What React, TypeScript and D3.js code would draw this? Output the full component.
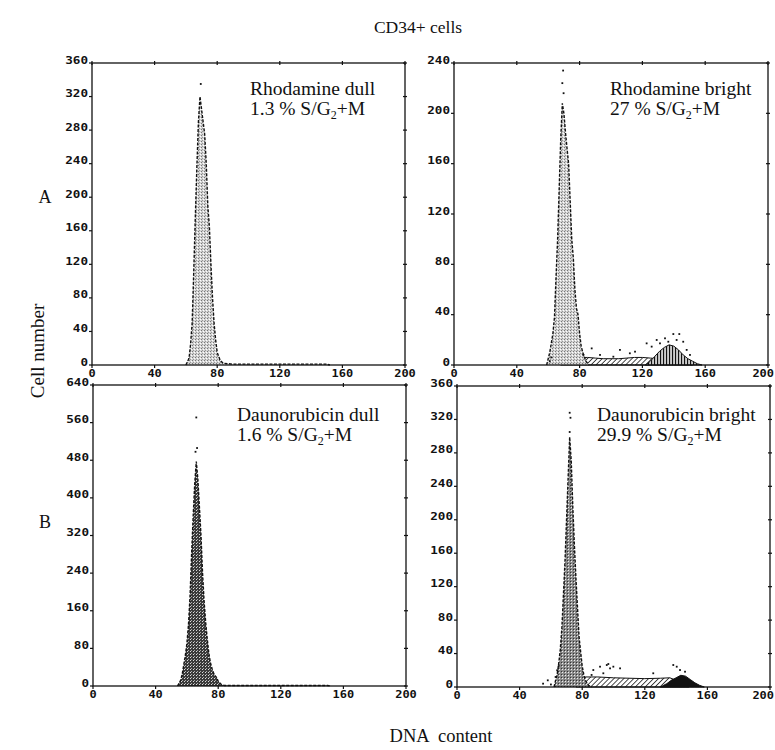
import React from 'react';
import * as d3 from 'd3';

type Pt = [number, number];

// ---------- data (channel, cell count) ----------
const xTickValues = [0, 40, 80, 120, 160, 200];
const yTicksRhoDull = [0, 40, 80, 120, 160, 200, 240, 280, 320, 360];
const yTicksRhoBright = [0, 40, 80, 120, 160, 200, 240];
const yTicksDauDull = [0, 80, 160, 240, 320, 400, 480, 560, 640];
const yTicksDauBright = [0, 40, 80, 120, 160, 200, 240, 280, 320, 360];

const rhoDullG1: Pt[] = [[60,0],[62,8],[63,25],[64,50],[65,110],[66,175],[67,235],[68,290],[69,320],[70,305],[71,290],[72,275],[73,240],[74,190],[75,165],[76,120],[77,80],[78,50],[79,30],[80,15],[82,5],[84,2],[90,1],[150,1],[152,0]];
const rhoDullDots: Pt[] = [[69.5,335]];

const rhoBrightG1: Pt[] = [[59,0],[61,10],[63,25],[64,38],[65,70],[66,100],[67,140],[68,180],[69,208],[70,200],[71,185],[72,172],[73,160],[74,130],[75,100],[76,85],[77,60],[78,45],[79,40],[80,25],[81,15],[82,10],[84,3],[86,0]];
const rhoBrightS: Pt[] = [[68,0],[72,3],[76,5],[80,6],[85,6],[90,5.5],[95,5],[100,5],[105,5],[110,5.5],[115,6],[120,6],[125,5.5],[130,5],[135,4],[140,3],[145,2],[150,0.5],[152,0]];
const rhoBrightG2: Pt[] = [[122,0],[125,3],[128,7],[131,11],[134,14],[137,16],[140,15],[143,12],[146,8],[149,5],[152,3],[155,1],[158,0]];
const rhoBrightDots: Pt[] = [[69.5,234],[69,224],[69.8,216],[61,3],[62,6],[87.7,13.2],[82.4,8],[105.7,12],[112,9.3],[115.3,10.6],[122.7,17.2],[125.9,14.6],[129.1,19.9],[131.2,17.2],[134.4,21.2],[136.5,18.5],[139.7,24.6],[143.5,24.6],[141.8,19.9],[146,18.5],[148.2,12],[150.3,8],[101.5,6.6],[93,8]];

const dauDullG1: Pt[] = [[54,0],[56,12],[57,25],[58,45],[59,65],[60,90],[61,130],[62,190],[63,280],[64,360],[65,430],[66,477],[67,440],[68,380],[69,320],[70,240],[71,180],[72,135],[73,100],[74,70],[75,50],[76,38],[77,28],[78,22],[79,18],[80,10],[82,3],[84,1],[150,1],[152,0]];
const dauDullDots: Pt[] = [[66.5,506],[65.5,498],[66,571]];

const dauBrightG1: Pt[] = [[62,0],[63,8],[64,15],[65,28],[66,45],[67,70],[68,110],[69,150],[70,200],[71,250],[72,299],[73,270],[74,215],[75,170],[76,130],[77,95],[78,60],[79,42],[80,25],[81,15],[82,8],[84,2],[86,0]];
const dauBrightS: Pt[] = [[76,0],[79,10],[82,12],[90,12],[100,11],[110,10.5],[120,10],[130,10.5],[136,11],[140,8],[144,3],[148,0]];
const dauBrightG2: Pt[] = [[130,0],[134,4],[137,8],[140,11],[143,14],[146,13],[149,9],[152,5],[155,2],[158,0]];
const dauBrightDots: Pt[] = [[72,328],[72.5,322],[72,305],[55,4],[58,8],[60,3],[63,12],[64,20],[65,25],[87.1,20.3],[91.4,24.3],[95.7,26.3],[97.8,22.3],[99.9,24.3],[104.2,22.3],[93.5,16.4],[96.7,27.5],[140.4,24.3],[142.5,20.3],[145.7,18.3],[138.2,26.3],[125.4,16.4],[86,14.4]];

const panelNames = ['Rhodamine dull', 'Rhodamine bright', 'Daunorubicin dull', 'Daunorubicin bright'];
const panelPercents = ['1.3', '27', '1.6', '29.9'];
const rowLabels = ['A', 'B'];

// ---------- layout ----------
const W = 775;
const panels = [
  { x0: 92, x1: 405, y0: 63, y1: 365, yMax: 360, yTicks: yTicksRhoDull, g1: rhoDullG1, s: null as Pt[] | null, g2: null as Pt[] | null, dots: rhoDullDots, g1Fill: 'url(#stLight)', g2Fill: '', tx: 250, ty: 95 },
  { x0: 454, x1: 768, y0: 63, y1: 365, yMax: 240, yTicks: yTicksRhoBright, g1: rhoBrightG1, s: rhoBrightS, g2: rhoBrightG2, dots: rhoBrightDots, g1Fill: 'url(#stLight)', g2Fill: 'url(#vlines)', tx: 610, ty: 95 },
  { x0: 93, x1: 406, y0: 385, y1: 686, yMax: 640, yTicks: yTicksDauDull, g1: dauDullG1, s: null as Pt[] | null, g2: null as Pt[] | null, dots: dauDullDots, g1Fill: 'url(#stDark)', g2Fill: '', tx: 237, ty: 421 },
  { x0: 457, x1: 770, y0: 386, y1: 687, yMax: 360, yTicks: yTicksDauBright, g1: dauBrightG1, s: dauBrightS, g2: dauBrightG2, dots: dauBrightDots, g1Fill: 'url(#stMid)', g2Fill: '#111', tx: 597, ty: 421 },
];

const tickFont = { fontFamily: 'DejaVu Sans Mono', fontWeight: 'bold' as const, fontSize: 10, fill: '#111' };

function Panel({ p, i }: { p: typeof panels[number]; i: number }) {
  const x = d3.scaleLinear().domain([0, 200]).range([p.x0, p.x1]);
  const y = d3.scaleLinear().domain([0, p.yMax]).range([p.y1, p.y0]);
  const area = d3.area<Pt>().x(d => x(d[0])).y0(y(0)).y1(d => y(d[1]));
  const line = d3.line<Pt>().x(d => x(d[0])).y(d => y(d[1]));
  return (
    <g>
      {p.s && <path d={area(p.s) || ''} fill="url(#hatch)" stroke="#111" strokeWidth={1} />}
      {p.g2 && <path d={area(p.g2) || ''} fill={p.g2Fill} stroke="#111" strokeWidth={1} />}
      <path d={area(p.g1) || ''} fill={p.g1Fill} />
      <path d={line(p.g1) || ''} fill="none" stroke="#111" strokeWidth={1.4} strokeDasharray="3,1.5" />
      {p.dots.map((d, k) => (
        <rect key={k} x={x(d[0]) - 0.9} y={y(d[1]) - 0.9} width={1.8} height={1.8} fill="#111" />
      ))}
      <rect x={p.x0} y={p.y0} width={p.x1 - p.x0} height={p.y1 - p.y0} fill="none" stroke="#111" strokeWidth={1.3} />
      {p.yTicks.map(t => (
        <g key={'y' + t}>
          <line x1={p.x0 - 3} x2={p.x0} y1={y(t)} y2={y(t)} stroke="#111" strokeWidth={1.2} />
          <line x1={p.x1 - 2} x2={p.x1 + 2} y1={y(t)} y2={y(t)} stroke="#111" strokeWidth={1.2} />
          <text x={p.x0 - 4} y={y(t) + 0.5} textAnchor="end" {...tickFont}
            textLength={String(t).length * 7.6} lengthAdjust="spacingAndGlyphs">{t}</text>
        </g>
      ))}
      {xTickValues.map(t => {
        const len = String(t).length * 7.2;
        const fits = x(t) + len / 2 <= W - 1;
        return (
          <g key={'x' + t}>
            <line x1={x(t)} x2={x(t)} y1={p.y1} y2={p.y1 + 3} stroke="#111" strokeWidth={1.2} />
            <line x1={x(t)} x2={x(t)} y1={p.y0 - 2} y2={p.y0 + 2} stroke="#111" strokeWidth={1.2} />
            <text x={fits ? x(t) : W - 1} y={p.y1 + 12} textAnchor={fits ? 'middle' : 'end'} {...tickFont}
              textLength={len} lengthAdjust="spacingAndGlyphs">{t}</text>
          </g>
        );
      })}
      <text x={p.tx} y={p.ty} fontFamily="Liberation Serif" fontSize={19.5} fill="#111">{panelNames[i]}</text>
      <text x={p.tx} y={p.ty + 20} fontFamily="Liberation Serif" fontSize={19.5} fill="#111">
        {panelPercents[i]} % S/G<tspan fontSize={12} dy={4}>2</tspan><tspan dy={-4}>+M</tspan>
      </text>
    </g>
  );
}

export default function App() {
  return (
    <svg width={775} height={750} style={{ position: 'absolute', left: 0, top: 0, background: '#fff' }}>
      <defs>
        <pattern id="stLight" width={3} height={3} patternUnits="userSpaceOnUse">
          <rect width={3} height={3} fill="#d4d4d4" />
          <rect x={0} y={0} width={1} height={1} fill="#777" />
          <rect x={2} y={1} width={1} height={1} fill="#fff" />
          <rect x={1} y={2} width={1} height={1} fill="#999" />
        </pattern>
        <pattern id="stDark" width={3} height={3} patternUnits="userSpaceOnUse">
          <rect width={3} height={3} fill="#3a3a3a" />
          <rect x={1} y={0} width={1} height={1} fill="#ddd" />
          <rect x={2} y={2} width={1} height={1} fill="#aaa" />
        </pattern>
        <pattern id="stMid" width={3} height={3} patternUnits="userSpaceOnUse">
          <rect width={3} height={3} fill="#8a8a8a" />
          <rect x={1} y={0} width={1} height={1} fill="#eee" />
          <rect x={0} y={2} width={1} height={1} fill="#333" />
        </pattern>
        <pattern id="hatch" width={3.5} height={3.5} patternUnits="userSpaceOnUse" patternTransform="rotate(45)">
          <rect width={3.5} height={3.5} fill="#fff" />
          <line x1={0} y1={0} x2={0} y2={3.5} stroke="#222" strokeWidth={1.6} />
        </pattern>
        <pattern id="vlines" width={3} height={3} patternUnits="userSpaceOnUse">
          <rect width={3} height={3} fill="#ccc" />
          <line x1={0.5} y1={0} x2={0.5} y2={3} stroke="#111" strokeWidth={1.2} />
        </pattern>
      </defs>
      <text x={418} y={33} textAnchor="middle" fontFamily="Liberation Serif" fontSize={17.5} fill="#111">CD34+ cells</text>
      <text transform="translate(44,351) rotate(-90)" textAnchor="middle" fontFamily="Liberation Serif" fontSize={19} fill="#111">Cell number</text>
      <text x={441} y={742} textAnchor="middle" fontFamily="Liberation Serif" fontSize={18.5} fill="#111" style={{ whiteSpace: 'pre' }}>DNA  content</text>
      <text x={45} y={203} textAnchor="middle" fontFamily="Liberation Serif" fontSize={18} fill="#111">{rowLabels[0]}</text>
      <text x={45} y={528} textAnchor="middle" fontFamily="Liberation Serif" fontSize={18} fill="#111">{rowLabels[1]}</text>
      {panels.map((p, i) => <Panel key={i} p={p} i={i} />)}
    </svg>
  );
}
